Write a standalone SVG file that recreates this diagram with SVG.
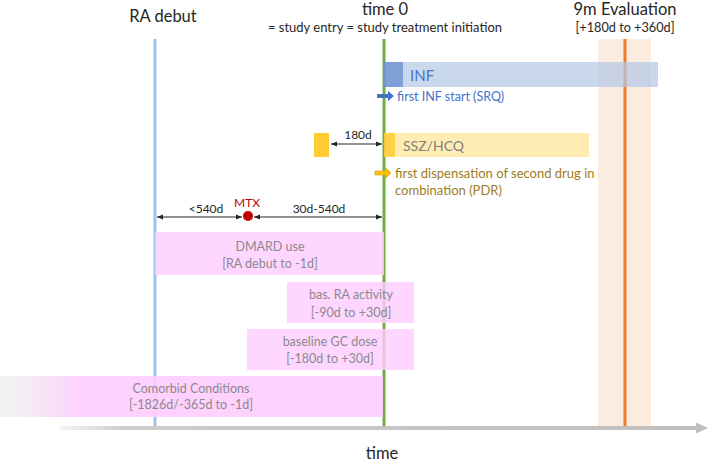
<svg xmlns="http://www.w3.org/2000/svg" width="709" height="462" viewBox="0 0 709 462">
<style>
text{font-family:Lato,"Noto Sans",sans-serif}
.h{font-size:16.5px;fill:#262626}
.s{font-size:13px;fill:#262626}
.lbl{font-size:12px;fill:#262626}
.box{fill:#ffccff;opacity:0.8}
.bt{font-size:12.5px;fill:#8a8a8a;text-anchor:middle}
.dim{stroke:#262626;stroke-width:1;fill:none;marker-start:url(#ah);marker-end:url(#ah)}
</style>
<defs>
<marker id="ah" viewBox="0 0 10 10" refX="10" refY="5" markerWidth="6" markerHeight="6" orient="auto-start-reverse" markerUnits="userSpaceOnUse"><path d="M0,1 L10,5 L0,9 Z" fill="#262626"/></marker>
<linearGradient id="cg" x1="0" x2="1" y1="0" y2="0">
<stop offset="0" stop-color="#e6e6e6" stop-opacity="0.5"/>
<stop offset="0.22" stop-color="#ffccff" stop-opacity="0.9"/>
<stop offset="1" stop-color="#ffccff" stop-opacity="0.9"/>
</linearGradient>
<linearGradient id="ag" x1="0" x2="1" y1="0" y2="0">
<stop offset="0" stop-color="#d9d9d9" stop-opacity="0.3"/>
<stop offset="0.1" stop-color="#cccccc"/>
<stop offset="1" stop-color="#bfbfbf"/>
</linearGradient>
</defs>
<rect width="709" height="462" fill="#fff"/>

<g id="eval-window">
<rect x="598" y="39" width="53" height="387" fill="#fbe5d6" opacity="0.75"/>
</g>

<g id="axis">
<rect x="60" y="426" width="637" height="4" fill="url(#ag)"/>
<path d="M696,422.5 L708,428 L696,433.5 Z" fill="#bfbfbf"/>
<text x="382" y="459" class="h" text-anchor="middle">time</text>
</g>

<g id="ra-debut">
<line x1="155" y1="39" x2="155" y2="426" stroke="#9dc3e6" stroke-width="3"/>
<text x="163" y="22" class="h" text-anchor="middle">RA debut</text>
</g>

<g id="time0">
<line x1="384" y1="39" x2="384" y2="426" stroke="#70ad47" stroke-width="3"/>
<text x="385" y="15" class="h" text-anchor="middle">time 0</text>
<text x="385" y="32" class="s" text-anchor="middle">= study entry = study treatment initiation</text>
</g>

<g id="evaluation">
<line x1="625" y1="39" x2="625" y2="426" stroke="#ed7d31" stroke-width="3"/>
<text x="625" y="15" class="h" text-anchor="middle">9m Evaluation</text>
<text x="625" y="32" class="s" font-size="12.7" text-anchor="middle" style="font-size:12.7px">[+180d to +360d]</text>
</g>

<g id="inf">
<rect x="384" y="62" width="274" height="25" fill="#b4c7e7" opacity="0.7"/>
<rect x="384" y="62" width="19" height="25" fill="#4472c4" opacity="0.55"/>
<text x="410" y="81" font-size="15" fill="#4472c4">INF</text>
<path d="M377,94 L388,94 L388,91 L394,96 L388,101 L388,98 L377,98 Z" fill="#4472c4"/>
<text x="397" y="101" class="lbl" style="fill:#4472c4;font-size:12.5px">first INF start (SRQ)</text>
</g>

<g id="ssz-hcq">
<rect x="314" y="133" width="15" height="24" fill="#ffc000" opacity="0.8"/>
<rect x="384" y="133" width="205" height="24" fill="#ffe699" opacity="0.75"/>
<rect x="384" y="133" width="11" height="24" fill="#ffc000" opacity="0.6"/>
<text x="403" y="151" font-size="14" fill="#7f7f7f">SSZ/HCQ</text>
<path d="M375,171 L386,171 L386,168 L391,173 L386,178 L386,175 L375,175 Z" fill="#ffc000" stroke="#d9a300" stroke-width="0.6"/>
<text x="395" y="178" class="lbl" style="fill:#9c7c22;font-size:13px">first dispensation of second drug in</text>
<text x="395" y="195" class="lbl" style="fill:#9c7c22;font-size:13px">combination (PDR)</text>
</g>

<g id="mtx">
<circle cx="248" cy="216" r="5" fill="#c00000"/>
<text x="247" y="207" font-size="12" fill="#c00000" text-anchor="middle">MTX</text>
<text x="206" y="213" class="lbl" text-anchor="middle">&lt;540d</text>
<text x="319" y="213" class="lbl" text-anchor="middle">30d-540d</text>
<text x="358" y="139" class="lbl" text-anchor="middle">180d</text>
</g>

<g id="connectors">
<line class="dim" x1="157" y1="217" x2="242" y2="217"/>
<line class="dim" x1="254" y1="217" x2="382" y2="217"/>
<line class="dim" x1="331" y1="144" x2="382" y2="144"/>
</g>

<g id="dmard">
<rect x="155" y="232" width="229" height="43" class="box"/>
<text x="270" y="251" class="bt">DMARD use</text>
<text x="270" y="268" class="bt">[RA debut to -1d]</text>
</g>

<g id="ra-activity">
<rect x="287" y="282" width="127" height="41" class="box"/>
<text x="351" y="299" class="bt">bas. RA activity</text>
<text x="351" y="317" class="bt">[-90d to +30d]</text>
</g>

<g id="gc-dose">
<rect x="247" y="329" width="167" height="41" class="box"/>
<text x="330" y="346" class="bt">baseline GC dose</text>
<text x="330" y="363" class="bt">[-180d to +30d]</text>
</g>

<g id="comorbid">
<rect x="0" y="376" width="383" height="41" fill="url(#cg)"/>
<text x="191" y="393" class="bt">Comorbid Conditions</text>
<text x="191" y="409" class="bt">[-1826d/-365d to -1d]</text>
</g>
</svg>
